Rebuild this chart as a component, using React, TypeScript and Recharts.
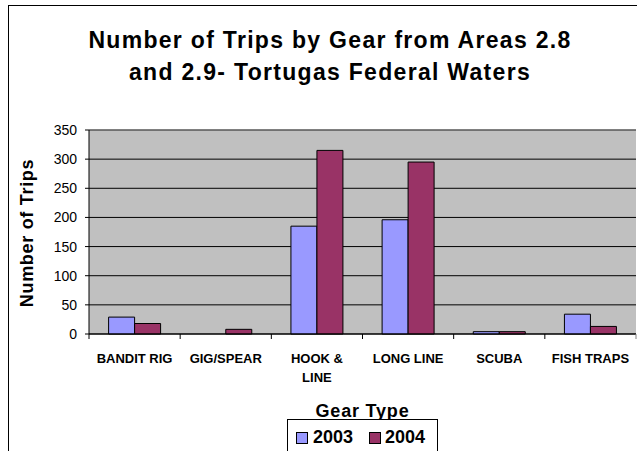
import React from "react";
import { BarChart, Bar, XAxis, YAxis, CartesianGrid, ReferenceLine } from "recharts";

const categories = ["BANDIT RIG", "GIG/SPEAR", "HOOK & LINE", "LONG LINE", "SCUBA", "FISH TRAPS"];
const categoryLabelLines = [["BANDIT RIG"], ["GIG/SPEAR"], ["HOOK &", "LINE"], ["LONG LINE"], ["SCUBA"], ["FISH TRAPS"]];
const trips2003 = [29, 0, 185, 196, 4, 34];
const trips2004 = [18, 8, 315, 295, 4, 13];
const yTicks = [0, 50, 100, 150, 200, 250, 300, 350];
const seriesNames = ["2003", "2004"];
const seriesColors = ["#9999FF", "#993366"];

const data = categories.map((c, i) => ({ gear: c, y2003: trips2003[i], y2004: trips2004[i] }));

const FONT = "'Liberation Sans', Arial, Helvetica, sans-serif";

const GearTick = (props: any) => {
  const { x, y, payload, index } = props;
  const half = payload && typeof payload.offset === "number" && payload.offset > 0 ? payload.offset : 45.6;
  const axisY = y - 19;
  const idx = categories.indexOf(payload.value);
  const lines = idx >= 0 ? categoryLabelLines[idx] : [String(payload.value)];
  return (
    <g>
      <line x1={x - half} x2={x - half} y1={axisY} y2={axisY + 5} stroke="#000" />
      {index === categories.length - 1 ? (
        <line x1={x + half} x2={x + half} y1={axisY} y2={axisY + 5} stroke="#808080" />
      ) : null}
      {lines.map((ln: string, k: number) => (
        <text
          key={k}
          x={x}
          y={y + 10 + k * 19}
          textAnchor="middle"
          fontSize={13}
          fontWeight="bold"
          fontFamily={FONT}
          fill="#000"
        >
          {ln}
        </text>
      ))}
    </g>
  );
};

export default function App() {
  return (
    <div
      style={{
        position: "absolute",
        left: 0,
        top: 0,
        width: 637,
        height: 451,
        overflow: "hidden",
        background: "#fff",
        fontFamily: FONT,
      }}
    >
      <div
        style={{
          position: "absolute",
          left: 8,
          top: 5,
          width: 800,
          height: 600,
          border: "1px solid #000",
        }}
      />
      <div style={{ position: "absolute", left: 0, top: 0 }}>
        <BarChart
          width={637}
          height={451}
          data={data}
          margin={{ top: 130, right: 1, left: 0, bottom: 57 }}
          barCategoryGap="21.5%"
          barGap={0}
        >
          <CartesianGrid vertical={false} stroke="#000" fill="#C0C0C0" fillOpacity={1} />
          <ReferenceLine y={350} stroke="#808080" />
          <XAxis
            dataKey="gear"
            height={60}
            axisLine={{ stroke: "#000" }}
            tickLine={false}
            tickSize={5}
            tickMargin={14}
            interval={0}
            tick={<GearTick />}
          />
          <YAxis
            width={89}
            domain={[0, 350]}
            ticks={yTicks}
            interval={0}
            axisLine={{ stroke: "#000" }}
            tickLine={{ stroke: "#000" }}
            tickSize={4}
            tickMargin={8}
            tick={{ fill: "#000", fontSize: 14, fontFamily: FONT }}
          />
          <Bar dataKey="y2003" name={seriesNames[0]} fill={seriesColors[0]} stroke="#000" strokeWidth={1} isAnimationActive={false} />
          <Bar dataKey="y2004" name={seriesNames[1]} fill={seriesColors[1]} stroke="#000" strokeWidth={1} isAnimationActive={false} />
        </BarChart>
      </div>
      <svg
        width={637}
        height={451}
        style={{ position: "absolute", left: 0, top: 0, pointerEvents: "none" }}
      >
        <text x={330} y={48} textAnchor="middle" fontSize={23} fontWeight="bold" fontFamily={FONT} letterSpacing={1.3}>
          Number of Trips by Gear from Areas 2.8
        </text>
        <text x={330} y={80} textAnchor="middle" fontSize={23} fontWeight="bold" fontFamily={FONT} letterSpacing={1.3}>
          and 2.9- Tortugas Federal Waters
        </text>
        <text
          transform="translate(33,233) rotate(-90)"
          textAnchor="middle"
          fontSize={18}
          fontWeight="bold"
          fontFamily={FONT}
          letterSpacing={0.7}
        >
          Number of Trips
        </text>
        <text x={362.5} y={417} textAnchor="middle" fontSize={18} fontWeight="bold" fontFamily={FONT} letterSpacing={0.8}>
          Gear Type
        </text>
        <rect x={287.5} y={419.5} width={150} height={60} fill="#fff" stroke="#000" />
        {seriesNames.map((n, i) => (
          <g key={n}>
            <rect x={296.5 + i * 73} y={432.5} width={11} height={11} fill={seriesColors[i]} stroke="#000" />
            <text x={313 + i * 72} y={443} fontSize={18} fontWeight="bold" fontFamily={FONT}>
              {n}
            </text>
          </g>
        ))}
      </svg>
    </div>
  );
}
